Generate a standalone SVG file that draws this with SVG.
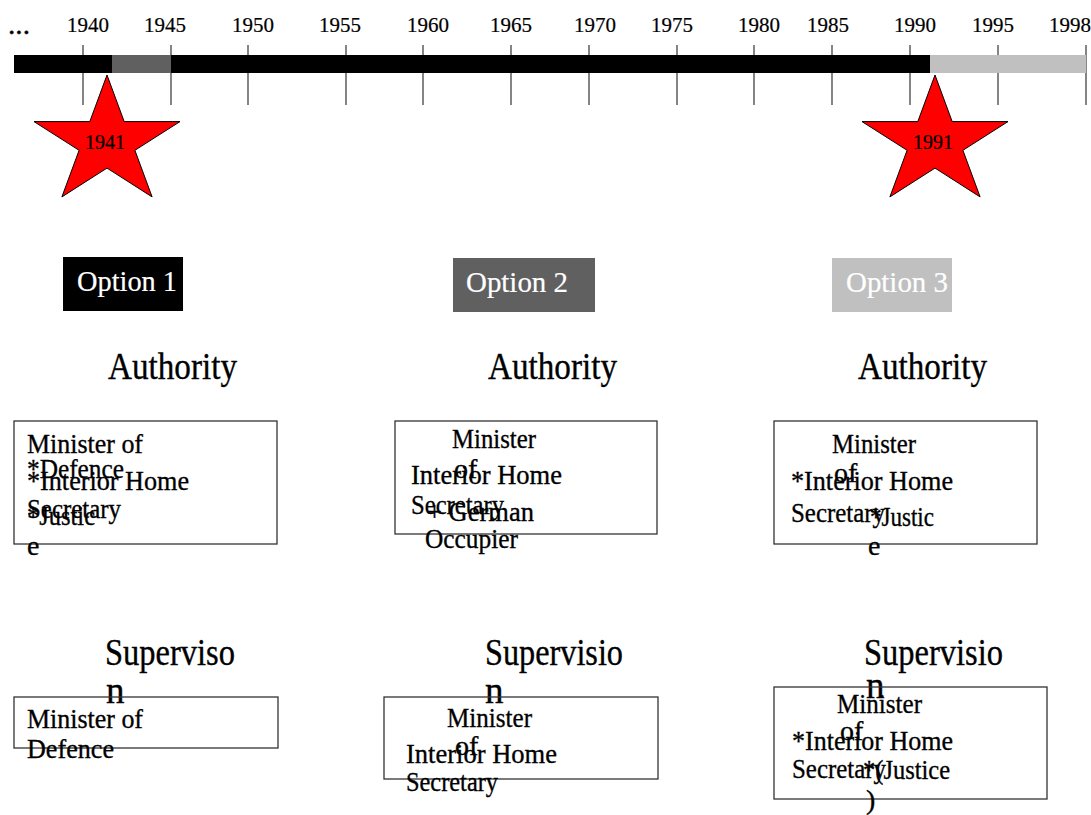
<svg xmlns="http://www.w3.org/2000/svg" width="1091" height="815" viewBox="0 0 1091 815" font-family="Liberation Serif, Times New Roman, serif">
<style>
text{font-family:"Liberation Serif","Times New Roman",serif;fill:#000;stroke:#000;stroke-width:0.35}
.yr{font-size:21px;text-anchor:middle;stroke-width:0.2}
.opt{font-size:30px;fill:#fff;stroke:#fff;stroke-width:0.2}
.hd{font-size:37px}
.bx{font-size:28px}
.box{fill:none;stroke:#333;stroke-width:1.3}
.tick{stroke:#333;stroke-width:1.2}
.star{fill:#ff0000;stroke:#000;stroke-width:1}
</style>
<defs>
<polygon id="star" class="star" points="0,-67.4 17.2,-20.8 73,-20.8 27.9,7.9 45.1,54.5 0,25.7 -45.1,54.5 -27.9,7.9 -73,-20.8 -17.2,-20.8"/>
</defs>
<rect width="1091" height="815" fill="#fff"/>

<g id="timeline">
<text x="8" y="34" class="bx" textLength="22" lengthAdjust="spacingAndGlyphs">...</text>
<g class="tick">
<line x1="83" y1="45" x2="83" y2="105"/>
<line x1="171" y1="45" x2="171" y2="105"/>
<line x1="248" y1="45" x2="248" y2="105"/>
<line x1="346" y1="45" x2="346" y2="105"/>
<line x1="423" y1="45" x2="423" y2="105"/>
<line x1="511" y1="45" x2="511" y2="105"/>
<line x1="589" y1="45" x2="589" y2="105"/>
<line x1="677" y1="45" x2="677" y2="105"/>
<line x1="754" y1="45" x2="754" y2="105"/>
<line x1="832" y1="45" x2="832" y2="105"/>
<line x1="910" y1="45" x2="910" y2="105"/>
<line x1="998" y1="45" x2="998" y2="105"/>
<line x1="1086" y1="45" x2="1086" y2="105"/>
</g>
<rect x="14" y="55" width="98" height="18" fill="#000"/>
<rect x="112" y="55" width="59" height="18" fill="#606060"/>
<rect x="171" y="55" width="759" height="18" fill="#000"/>
<rect x="930" y="55" width="156" height="18" fill="#c0c0c0"/>
<text class="yr" x="88" y="32">1940</text>
<text class="yr" x="165" y="32">1945</text>
<text class="yr" x="253" y="32">1950</text>
<text class="yr" x="340" y="32">1955</text>
<text class="yr" x="428" y="32">1960</text>
<text class="yr" x="511" y="32">1965</text>
<text class="yr" x="595" y="32">1970</text>
<text class="yr" x="672" y="32">1975</text>
<text class="yr" x="759" y="32">1980</text>
<text class="yr" x="828" y="32">1985</text>
<text class="yr" x="915" y="32">1990</text>
<text class="yr" x="993" y="32">1995</text>
<text class="yr" x="1070" y="32">1998</text>
</g>

<g id="star-1941">
<use href="#star" transform="translate(107,142.4)"/>
<text class="yr" x="105" y="149" style="font-size:20px">1941</text>
</g>
<g id="star-1991">
<use href="#star" transform="translate(935,142.4)"/>
<text class="yr" x="933" y="149" style="font-size:20px">1991</text>
</g>

<g id="option-1">
<rect x="63" y="257" width="120" height="54" fill="#000"/>
<text class="opt" x="77" y="291" textLength="100" lengthAdjust="spacingAndGlyphs">Option 1</text>
</g>
<g id="option-2">
<rect x="453" y="258" width="142" height="54" fill="#606060"/>
<text class="opt" x="466" y="292" textLength="102" lengthAdjust="spacingAndGlyphs">Option 2</text>
</g>
<g id="option-3">
<rect x="832" y="258" width="120" height="54" fill="#c0c0c0"/>
<text class="opt" x="846" y="292" textLength="102" lengthAdjust="spacingAndGlyphs">Option 3</text>
</g>

<g id="authority-1">
<text class="hd" x="108" y="379" textLength="129" lengthAdjust="spacingAndGlyphs">Authority</text>
<rect class="box" x="14" y="421" width="263" height="123"/>
<text class="bx" x="27" y="453" textLength="116" lengthAdjust="spacingAndGlyphs">Minister of</text>
<text class="bx" x="27" y="478" textLength="97" lengthAdjust="spacingAndGlyphs">*Defence</text>
<text class="bx" x="27" y="490" textLength="162" lengthAdjust="spacingAndGlyphs">*Interior Home</text>
<text class="bx" x="27" y="518" textLength="94" lengthAdjust="spacingAndGlyphs">Secretary</text>
<text class="bx" x="27" y="525" textLength="68" lengthAdjust="spacingAndGlyphs">*Justic</text>
<text class="bx" x="27" y="555">e</text>
</g>
<g id="authority-2">
<text class="hd" x="488" y="379" textLength="129" lengthAdjust="spacingAndGlyphs">Authority</text>
<rect class="box" x="395" y="421" width="262" height="113"/>
<text class="bx" x="452" y="448" textLength="84" lengthAdjust="spacingAndGlyphs">Minister</text>
<text class="bx" x="454" y="478">of</text>
<text class="bx" x="411" y="484" textLength="151" lengthAdjust="spacingAndGlyphs">Interior Home</text>
<text class="bx" x="411" y="514" textLength="93" lengthAdjust="spacingAndGlyphs">Secretary</text>
<text class="bx" x="427" y="521" textLength="107" lengthAdjust="spacingAndGlyphs">+ German</text>
<text class="bx" x="425" y="548" textLength="93" lengthAdjust="spacingAndGlyphs">Occupier</text>
</g>
<g id="authority-3">
<text class="hd" x="858" y="379" textLength="129" lengthAdjust="spacingAndGlyphs">Authority</text>
<rect class="box" x="774" y="421" width="263" height="123"/>
<text class="bx" x="832" y="453" textLength="84" lengthAdjust="spacingAndGlyphs">Minister</text>
<text class="bx" x="834" y="482">of</text>
<text class="bx" x="791" y="490" textLength="162" lengthAdjust="spacingAndGlyphs">*Interior Home</text>
<text class="bx" x="791" y="522" textLength="94" lengthAdjust="spacingAndGlyphs">Secretary</text>
<text class="bx" x="870" y="526" textLength="64" lengthAdjust="spacingAndGlyphs">*Justic</text>
<text class="bx" x="868" y="555">e</text>
</g>

<g id="supervision-1">
<text class="hd" x="105" y="665" textLength="130" lengthAdjust="spacingAndGlyphs">Superviso</text>
<text class="hd" x="106" y="703">n</text>
<rect class="box" x="14" y="697" width="264" height="51"/>
<text class="bx" x="27" y="728" textLength="116" lengthAdjust="spacingAndGlyphs">Minister of</text>
<text class="bx" x="27" y="758" textLength="87" lengthAdjust="spacingAndGlyphs">Defence</text>
</g>
<g id="supervision-2">
<text class="hd" x="485" y="665" textLength="138" lengthAdjust="spacingAndGlyphs">Supervisio</text>
<text class="hd" x="485" y="703">n</text>
<rect class="box" x="384" y="697" width="274" height="82"/>
<text class="bx" x="447" y="727" textLength="85" lengthAdjust="spacingAndGlyphs">Minister</text>
<text class="bx" x="455" y="755">of</text>
<text class="bx" x="406" y="763" textLength="151" lengthAdjust="spacingAndGlyphs">Interior Home</text>
<text class="bx" x="406" y="791" textLength="92" lengthAdjust="spacingAndGlyphs">Secretary</text>
</g>
<g id="supervision-3">
<text class="hd" x="864" y="665" textLength="139" lengthAdjust="spacingAndGlyphs">Supervisio</text>
<text class="hd" x="866" y="698">n</text>
<rect class="box" x="774" y="687" width="273" height="112"/>
<text class="bx" x="837" y="713" textLength="85" lengthAdjust="spacingAndGlyphs">Minister</text>
<text class="bx" x="840" y="740">of</text>
<text class="bx" x="792" y="750" textLength="161" lengthAdjust="spacingAndGlyphs">*Interior Home</text>
<text class="bx" x="792" y="778" textLength="94" lengthAdjust="spacingAndGlyphs">Secretary</text>
<text class="bx" x="863" y="779" textLength="87" lengthAdjust="spacingAndGlyphs">*(Justice</text>
<text class="bx" x="866" y="809">)</text>
</g>
</svg>
